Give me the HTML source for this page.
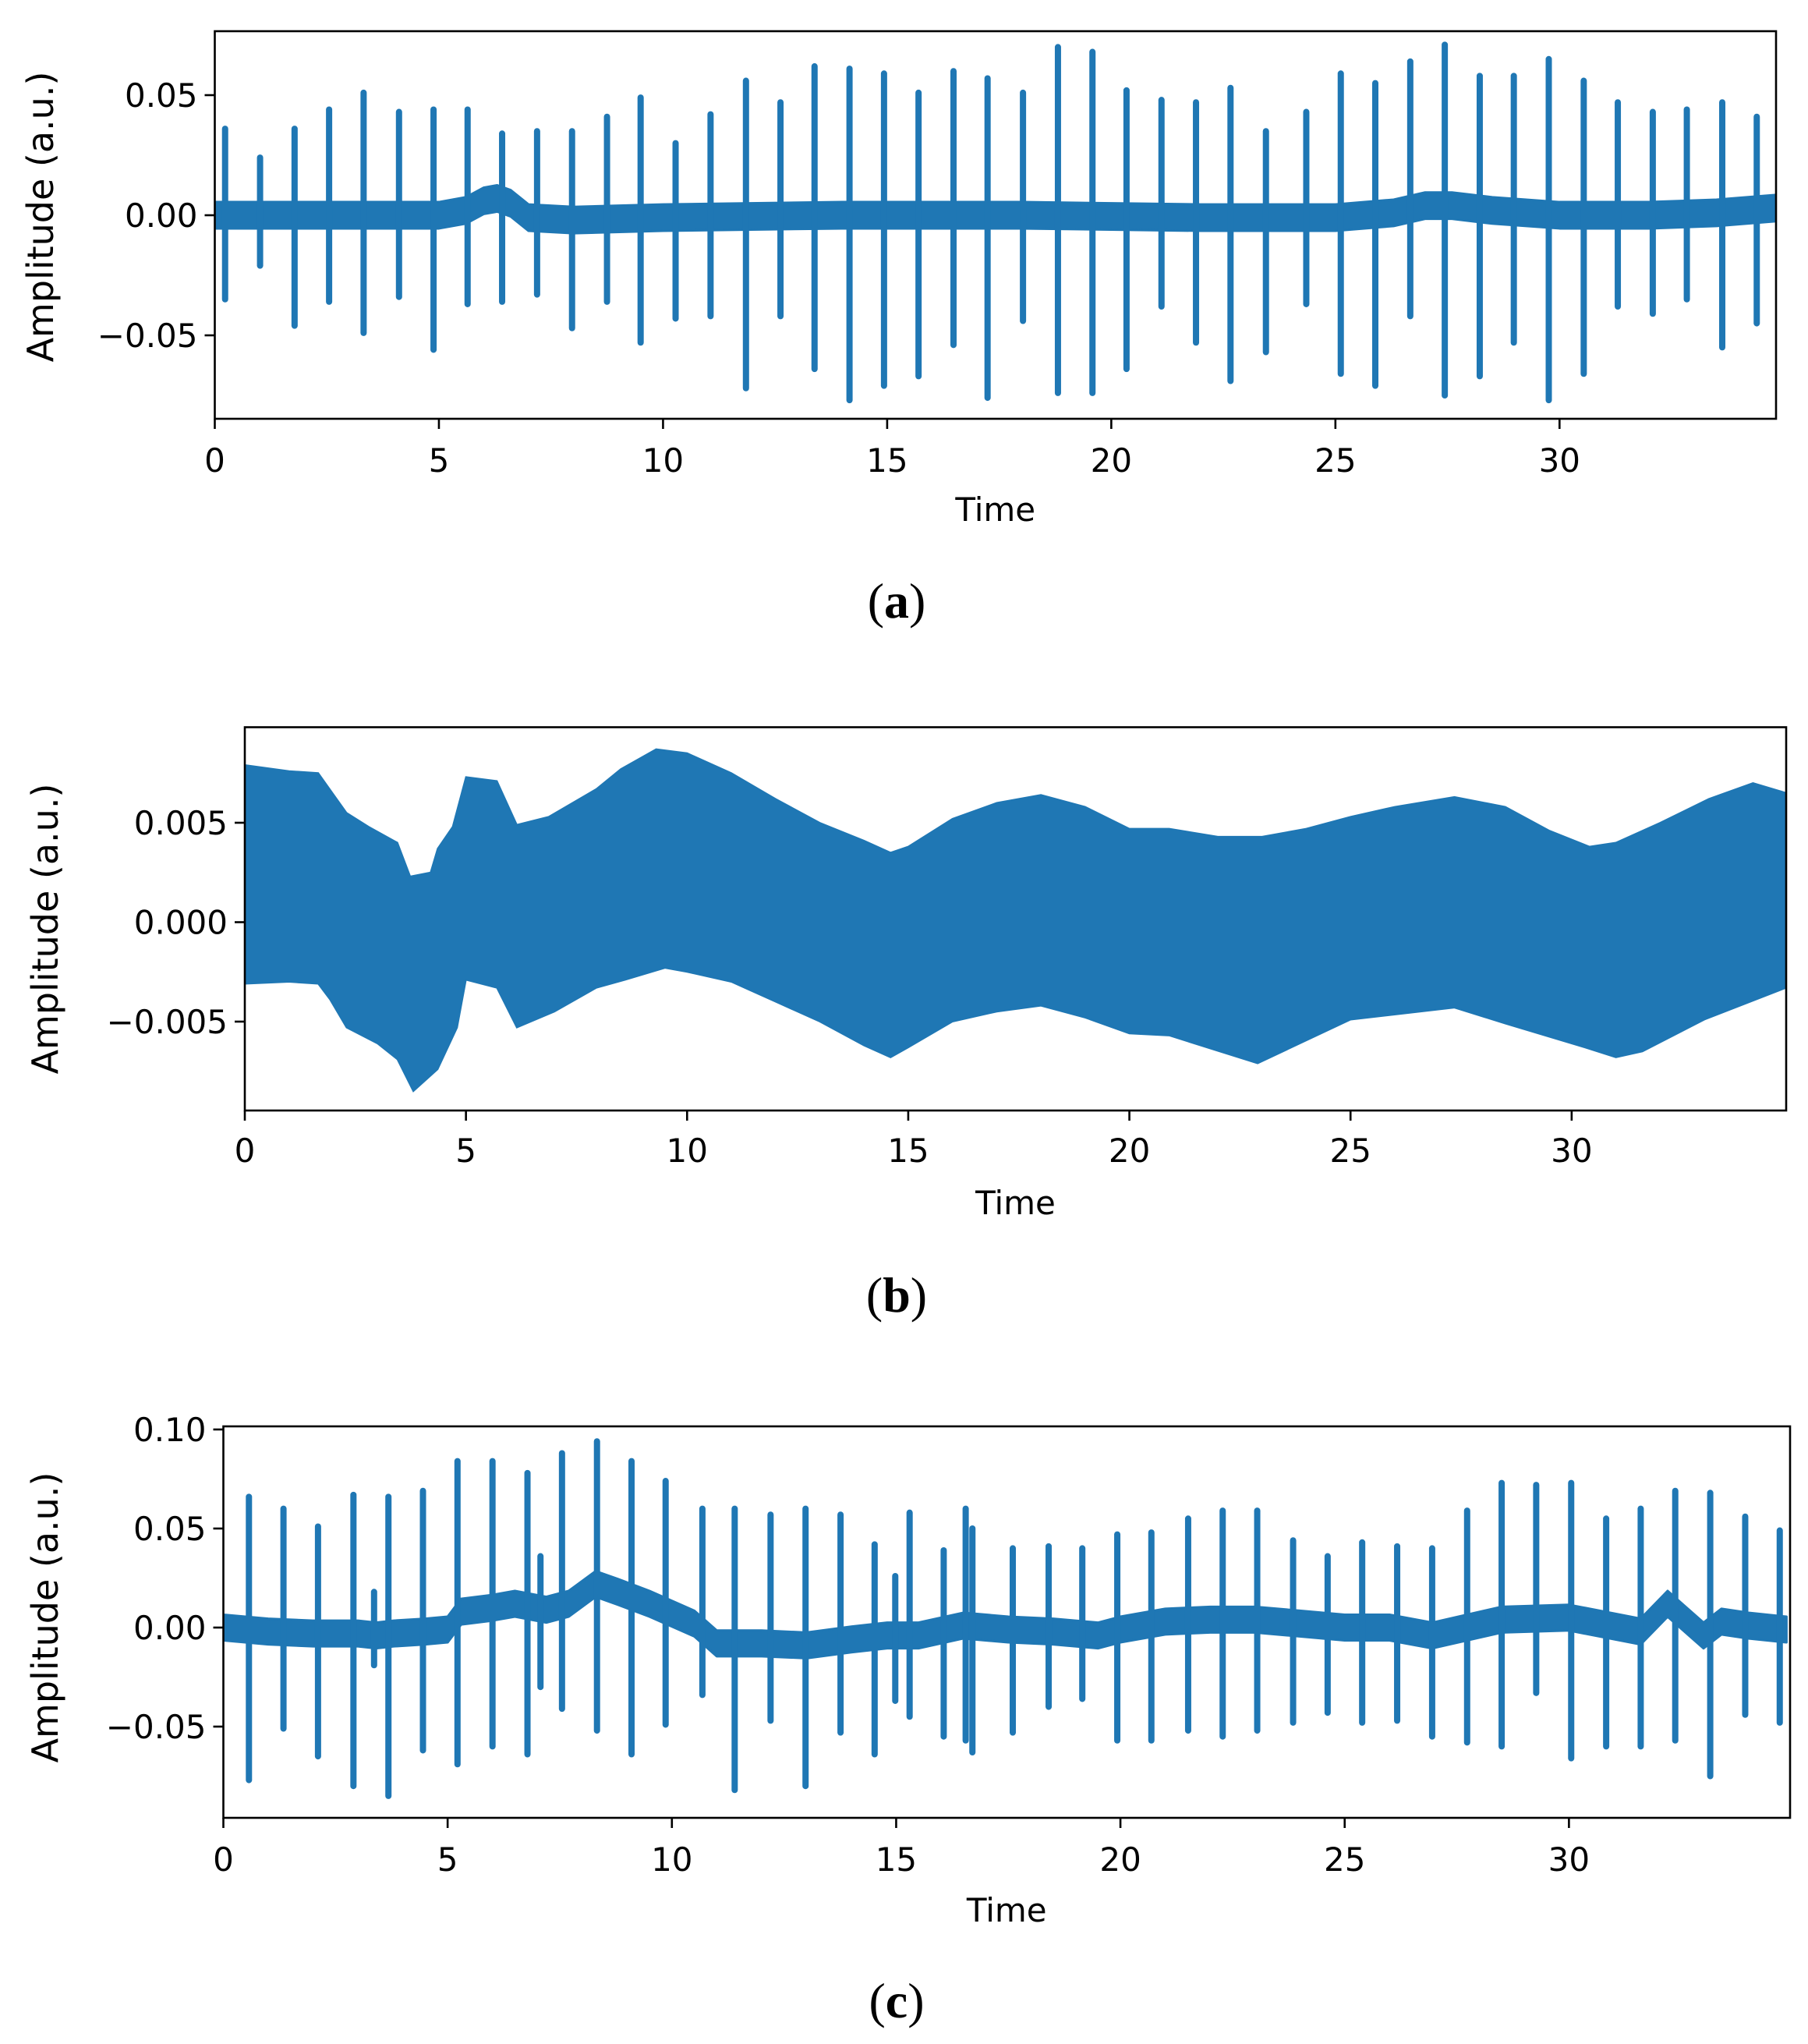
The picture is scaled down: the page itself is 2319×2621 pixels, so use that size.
<!DOCTYPE html>
<html><head><meta charset="utf-8"><style>
html,body{margin:0;padding:0;background:#fff;}
svg{display:block;}
text{font-family:"DejaVu Sans","Liberation Sans",sans-serif;fill:#000;}
.cap{font-family:"Liberation Serif",serif;}
</style></head><body>
<svg id="fig" width="2319" height="2621" viewBox="0 0 2319 2621" xmlns="http://www.w3.org/2000/svg"></svg>
<script>
// ---- Panel (a) data ----
const aSpikeT = [0.23,1.01,1.78,2.55,3.32,4.11,4.88,5.64,6.41,7.19,7.97,8.75,9.5,10.28,11.06,11.85,12.62,13.38,14.16,14.93,15.7,16.48,17.24,18.03,18.81,19.58,20.34,21.12,21.89,22.66,23.45,24.35,25.12,25.89,26.67,27.44,28.22,28.98,29.76,30.54,31.30,32.08,32.84,33.63,34.40];
const aSpikeTop = [0.036,0.024,0.036,0.044,0.051,0.043,0.044,0.044,0.034,0.035,0.035,0.041,0.049,0.030,0.042,0.056,0.047,0.062,0.061,0.059,0.051,0.060,0.057,0.051,0.070,0.068,0.052,0.048,0.047,0.053,0.035,0.043,0.059,0.055,0.064,0.071,0.058,0.058,0.065,0.056,0.047,0.043,0.044,0.047,0.041];
const aSpikeBot = [-0.035,-0.021,-0.046,-0.036,-0.049,-0.034,-0.056,-0.037,-0.036,-0.033,-0.047,-0.036,-0.053,-0.043,-0.042,-0.072,-0.042,-0.064,-0.077,-0.071,-0.067,-0.054,-0.076,-0.044,-0.074,-0.074,-0.064,-0.038,-0.053,-0.069,-0.057,-0.037,-0.066,-0.071,-0.042,-0.075,-0.067,-0.053,-0.077,-0.066,-0.038,-0.041,-0.035,-0.055,-0.045];
const aDriftT = [0,2,4,5,5.6,6.0,6.3,6.6,7.0,8,10,14,18,22,25,26.3,27,27.6,28.5,30,32,33.5,34.85];
const aDriftV = [0.000,0.000,0.000,0.000,0.002,0.006,0.007,0.005,-0.001,-0.002,-0.001,0.000,0.000,-0.001,-0.001,0.001,0.004,0.004,0.002,0.000,0.000,0.001,0.003];
const aYTicks = [0.05,0.00,-0.05];
const aYTickLabels = ["0.05","0.00","\u22120.05"];
const xTicks = [0,5,10,15,20,25,30];
const xTickLabels = ["0","5","10","15","20","25","30"];

// ---- Panel (b) data ----
const bUpT = [0,1,1.66,2.3,2.8,3.45,3.74,4.2,4.36,4.7,5.0,5.7,6.15,6.87,7.95,8.5,9.3,10,11,12,13,14,14.6,15,16,17,18,19,20,20.9,22,23,24,25,26,27.35,28.5,29.5,30.4,31,32,33.1,34.1,34.85];
const bUpV = [0.0079,0.0076,0.0075,0.0055,0.0048,0.0040,0.0023,0.0025,0.0037,0.0048,0.0073,0.0071,0.0049,0.0053,0.0067,0.0077,0.0087,0.0085,0.0075,0.0062,0.0050,0.0041,0.0035,0.0038,0.0052,0.0060,0.0064,0.0058,0.0047,0.0047,0.0043,0.0043,0.0047,0.0053,0.0058,0.0063,0.0058,0.0046,0.0038,0.0040,0.0050,0.0062,0.0070,0.0065];
const bLoT = [0,1,1.66,1.93,2.3,3.0,3.45,3.81,4.36,4.8,5.0,5.7,6.15,7.0,7.95,8.6,9.5,10,11,12,13,14,14.6,15,16,17,18,19,20,20.9,22.9,25,27.35,28.5,30.3,31,31.6,33,34.85];
const bLoV = [-0.0031,-0.0030,-0.0031,-0.0039,-0.0053,-0.0061,-0.0069,-0.0085,-0.0074,-0.0053,-0.0029,-0.0033,-0.0053,-0.0045,-0.0033,-0.0029,-0.0023,-0.0025,-0.0030,-0.0040,-0.0050,-0.0062,-0.0068,-0.0063,-0.0050,-0.0045,-0.0042,-0.0048,-0.0056,-0.0057,-0.0071,-0.0049,-0.0043,-0.0051,-0.0063,-0.0068,-0.0065,-0.0049,-0.0033];
const bYTicks = [0.005,0.000,-0.005];
const bYTickLabels = ["0.005","0.000","\u22120.005"];

// ---- Panel (c) data ----
const cSpikeT = [0.57,1.34,2.11,2.90,3.36,3.68,4.45,5.22,6.0,6.78,7.07,7.55,8.33,9.1,9.86,10.68,11.4,12.2,12.98,13.76,14.52,14.98,15.3,16.06,16.55,16.7,17.6,18.4,19.15,19.93,20.69,21.51,22.28,23.05,23.85,24.62,25.39,26.17,26.95,27.73,28.5,29.27,30.05,30.83,31.6,32.37,33.15,33.93,34.70];
const cSpikeTop = [0.066,0.060,0.051,0.067,0.018,0.066,0.069,0.084,0.084,0.078,0.036,0.088,0.094,0.084,0.074,0.060,0.060,0.057,0.060,0.057,0.042,0.026,0.058,0.039,0.060,0.050,0.040,0.041,0.040,0.047,0.048,0.055,0.059,0.059,0.044,0.036,0.043,0.041,0.040,0.059,0.073,0.072,0.073,0.055,0.060,0.069,0.068,0.056,0.049];
const cSpikeBot = [-0.077,-0.051,-0.065,-0.080,-0.019,-0.085,-0.062,-0.069,-0.060,-0.064,-0.030,-0.041,-0.052,-0.064,-0.049,-0.034,-0.082,-0.047,-0.080,-0.053,-0.064,-0.037,-0.045,-0.055,-0.057,-0.063,-0.053,-0.040,-0.036,-0.057,-0.057,-0.052,-0.055,-0.052,-0.048,-0.043,-0.048,-0.047,-0.055,-0.058,-0.060,-0.033,-0.066,-0.060,-0.060,-0.057,-0.075,-0.044,-0.048];
const cDriftT = [0,1,2,3,3.4,3.8,4.5,5.0,5.3,6.0,6.5,7.2,7.7,8.3,8.8,9.5,10.5,11,12,13,14,14.8,15.5,16.5,17.5,18.5,19.5,20,21,22,23,24,25,26,26.95,28.5,30,31.6,32.2,33.0,33.4,34,34.85];
const cDriftV = [0.000,-0.002,-0.003,-0.003,-0.004,-0.003,-0.002,-0.001,0.008,0.010,0.012,0.009,0.012,0.022,0.018,0.012,0.002,-0.008,-0.008,-0.009,-0.006,-0.004,-0.004,0.001,-0.001,-0.002,-0.004,-0.001,0.003,0.004,0.004,0.002,0.000,0.000,-0.004,0.004,0.005,-0.002,0.012,-0.004,0.003,0.001,-0.001];
const cYTicks = [0.10,0.05,0.00,-0.05];
const cYTickLabels = ["0.10","0.05","0.00","\u22120.05"];

const NS = "http://www.w3.org/2000/svg";
const svg = document.getElementById('fig');
const BLUE = "#1f77b4";
function mk(tag, attrs, parent){ const e=document.createElementNS(NS,tag); for(const k in attrs) e.setAttribute(k,attrs[k]); (parent||svg).appendChild(e); return e; }

function makeAxes(p){
  const sx = t => p.L + (t - 0) / (p.xMax) * (p.R - p.L);
  const sy = v => p.y0px + (p.y0px - p.y1px) * (-(v - 0) / p.y1val);
  return {sx, sy};
}

function drawFrame(p, ax, yTicks, yLabels, name){
  const g = mk('g', {});
  
  
  const fr = mk('rect', {x:p.L, y:p.T, width:p.R-p.L, height:p.B-p.T, fill:'none', stroke:'#000', 'stroke-width':2.6}, g);
  
  
  xTicks.forEach((t,i)=>{
    const x = ax.sx(t);
    const tk = mk('line', {x1:x, x2:x, y1:p.B, y2:p.B+13, stroke:'#000','stroke-width':2.6}, g);
    
    
    const tx = mk('text', {x:x, y:p.xLabY, 'text-anchor':'middle','font-size':42}, g);
    tx.textContent = xTickLabels[i];
    
    
  });
  yTicks.forEach((v,i)=>{
    const y = ax.sy(v);
    const tk = mk('line', {x1:p.L-13, x2:p.L, y1:y, y2:y, stroke:'#000','stroke-width':2.6}, g);
    
    
    const tx = mk('text', {x:p.L-22, y:y+15, 'text-anchor':'end','font-size':42}, g);
    tx.textContent = yLabels[i];
    
    
  });
  const xt = mk('text', {x:(p.L+p.R)/2, y:p.timeY, 'text-anchor':'middle','font-size':42}, g);
  xt.textContent = 'Time';
  
  
  const yt = mk('text', {x:0, y:0, 'text-anchor':'middle','font-size':46, transform:`translate(${p.yLabX},${p.yLabCY}) rotate(-90)`}, g);
  yt.textContent = 'Amplitude (a.u.)';
  
  
  const cap = mk('text', {x:1150, y:p.capY, 'text-anchor':'middle','font-size':64, class:'cap'}, g);
  cap.innerHTML = '(<tspan font-weight="bold">' + p.cap + '</tspan>)';
  
  
}

function drawSpiky(p, ax, sT, sTop, sBot, dT, dV, hw, name){
  const clip = 'clip-' + name;
  const cp = mk('clipPath', {id:clip});
  mk('rect', {x:p.L, y:p.T, width:p.R-p.L, height:p.B-p.T}, cp);
  const g = mk('g', {'clip-path':`url(#${clip})`});
  
  
  let up=[], lo=[];
  dT.forEach((t,i)=>{ up.push(ax.sx(t)+','+ax.sy(dV[i]+hw)); lo.unshift(ax.sx(t)+','+ax.sy(dV[i]-hw)); });
  const band = mk('polygon', {points: up.concat(lo).join(' '), fill:BLUE, stroke:BLUE, 'stroke-width':3, 'stroke-linejoin':'round'}, g);
  
  
  sT.forEach((t,i)=>{
    const x = ax.sx(t);
    const ln = mk('line', {x1:x, x2:x, y1:ax.sy(sTop[i]), y2:ax.sy(sBot[i]), stroke:BLUE, 'stroke-width':8, 'stroke-linecap':'round'}, g);
    
    
  });
}

// Panel a
const pA = {L:275.5, R:2278, T:40, B:537, xMax:34.83, y0px:276, y1px:122, y1val:0.05, xLabY:605, timeY:668, yLabX:68, yLabCY:278, capY:792, cap:'a'};
const axA = makeAxes(pA);
drawSpiky(pA, axA, aSpikeT, aSpikeTop, aSpikeBot, aDriftT, aDriftV, 0.0055, 'panel-a');
drawFrame(pA, axA, aYTicks, aYTickLabels, 'panel-a');

// Panel b
const pB = {L:314, R:2291, T:932.5, B:1424, xMax:34.85, y0px:1182.5, y1px:1055, y1val:0.005, xLabY:1490, timeY:1557, yLabX:74, yLabCY:1191, capY:1682, cap:'b'};
const axB = makeAxes(pB);
(function(){
  const cp = mk('clipPath', {id:'clip-b'});
  mk('rect', {x:pB.L, y:pB.T, width:pB.R-pB.L, height:pB.B-pB.T}, cp);
  let pts=[];
  bUpT.forEach((t,i)=>pts.push(axB.sx(t)+','+axB.sy(bUpV[i])));
  for(let i=bLoT.length-1;i>=0;i--) pts.push(axB.sx(bLoT[i])+','+axB.sy(bLoV[i]));
  const poly = mk('polygon', {points:pts.join(' '), fill:BLUE, stroke:BLUE, 'stroke-width':2, 'clip-path':'url(#clip-b)'});
  
  
})();
drawFrame(pB, axB, bYTicks, bYTickLabels, 'panel-b');

// Panel c
const pC = {L:286.5, R:2296, T:1829, B:2331, xMax:34.93, y0px:2087, y1px:1960, y1val:0.05, xLabY:2399, timeY:2464, yLabX:74, yLabCY:2074, capY:2587, cap:'c'};
const axC = makeAxes(pC);
drawSpiky(pC, axC, cSpikeT, cSpikeTop, cSpikeBot, cDriftT, cDriftV, 0.0065, 'panel-c');
drawFrame(pC, axC, cYTicks, cYTickLabels, 'panel-c');
</script>
</body></html>
